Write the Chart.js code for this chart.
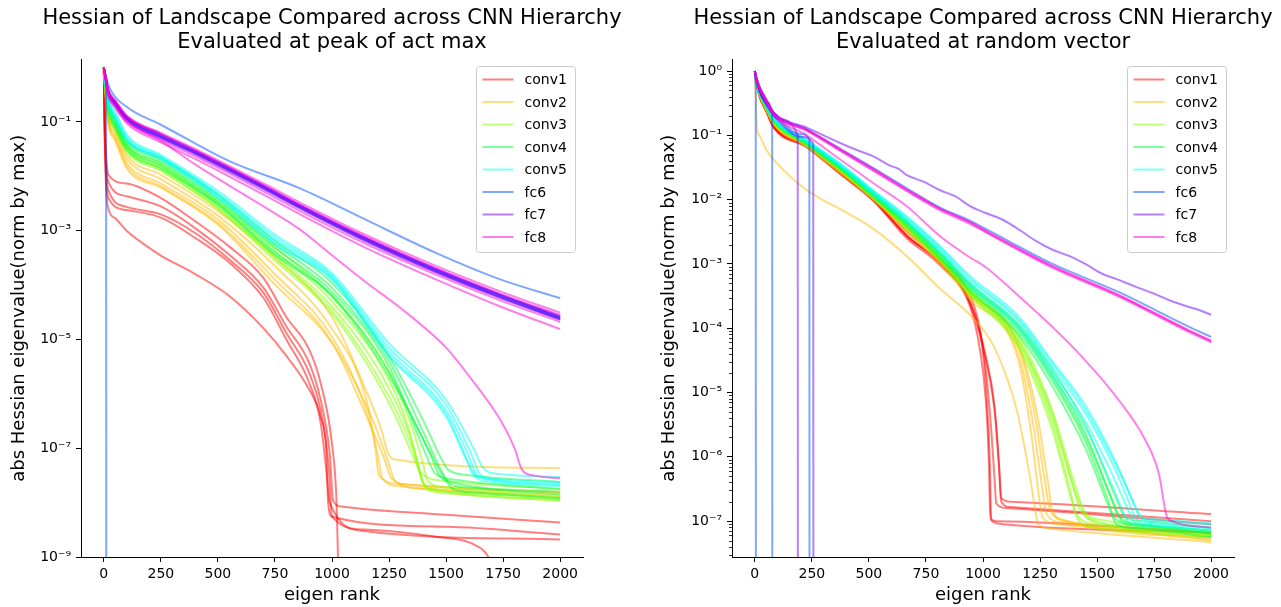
<!DOCTYPE html>
<html>
<head>
<meta charset="utf-8">
<script src="https://cdn.jsdelivr.net/npm/chart.js@4.4.0/dist/chart.umd.min.js"></script>
<style>
  html, body { margin: 0; padding: 0; background: #fff; }
  #wrap { position: relative; width: 1281px; height: 607px; }
  .panel { position: absolute; top: 0; }
  #peakBox { left: 0; }
  #randBox { left: 640px; }
</style>
</head>
<body>
<div id="wrap">
  <div class="panel" id="peakBox"><canvas id="peakChart" width="640" height="607"></canvas></div>
  <div class="panel" id="randBox"><canvas id="randChart" width="641" height="607"></canvas></div>
</div>
<script>
// Layers and their colours (hsv colormap, alpha 0.5)
const layerNames = ['conv1', 'conv2', 'conv3', 'conv4', 'conv5', 'fc6', 'fc7', 'fc8'];
const layerColors = [
    'rgba(255, 0, 0, 0.5)',
    'rgba(255, 188, 0, 0.5)',
    'rgba(133, 255, 0, 0.5)',
    'rgba(0, 255, 55, 0.5)',
    'rgba(0, 255, 243, 0.5)',
    'rgba(0, 79, 255, 0.5)',
    'rgba(110, 0, 255, 0.5)',
    'rgba(255, 0, 212, 0.5)'
];

// Tick values
const xTicks = [0, 250, 500, 750, 1000, 1250, 1500, 1750, 2000];
const peakYTicks = [1e-1, 1e-3, 1e-5, 1e-7, 1e-9];
const randYTicks = [1, 1e-1, 1e-2, 1e-3, 1e-4, 1e-5, 1e-6, 1e-7];
const minorSubs = [2, 3, 4, 5, 6, 7, 8, 9];

// ---- Evaluated at peak of act max: every curve is a list of [eigen rank, eigenvalue] ----
const peakConv1 = [
    [[0,1],[3,0.2],[10,0.025],[20,0.0107],[100,0.0074],[250,0.004],[400,0.0015],[550,5.1e-4],[700,1.35e-4],[800,2.6e-5],[900,6.5e-6],[950,1.6e-6],[1000,1.2e-7],[1020,1e-8],[1032,1e-10]],
    [[0,1],[3,0.15],[10,0.018],[20,0.0079],[100,0.0043],[250,0.0028],[400,0.00112],[550,3.6e-4],[700,8.9e-5],[800,1.74e-5],[900,3.7e-6],[950,7.8e-7],[990,8e-8],[1005,1.1e-8],[1040,8.5e-9],[1500,6e-9],[2000,4.3e-9]],
    [[0,1],[3,0.12],[10,0.012],[20,0.0056],[100,0.00275],[250,0.002],[400,9.1e-4],[550,2.95e-4],[700,7.2e-5],[800,1.32e-5],[900,2.45e-6],[950,5.1e-7],[985,5e-8],[1000,5.6e-9],[1140,3.2e-9],[1440,2.4e-9],[1640,1.55e-9],[1685,1e-9],[1710,5e-10]],
    [[0,1],[3,0.1],[10,0.009],[20,0.004],[100,0.0024],[250,0.00174],[400,7.4e-4],[550,2.6e-4],[700,5.8e-5],[800,1e-5],[900,1.6e-6],[950,3e-7],[975,4e-8],[990,1e-8],[1140,3e-9],[2000,2.1e-9]],
    [[0,1],[3,0.08],[10,0.006],[20,0.0025],[50,0.0017],[100,0.001],[180,5.5e-4],[250,3.5e-4],[400,1.6e-4],[550,6.3e-5],[700,1.6e-5],[800,5e-6],[900,1.2e-6],[950,3.8e-7],[975,9e-8],[983,1e-8],[1000,5.5e-9],[1500,3.6e-9],[2000,2.6e-9]]
];
const peakConv2 = [
    [[0,1],[5,0.55],[20,0.135],[50,0.072],[100,0.025],[250,0.0107],[500,0.0023],[750,3.2e-4],[1000,2.6e-5],[1142,1.35e-6],[1216,2.2e-7],[1245,8.1e-8],[1270,6.3e-8],[2000,4.3e-8]],
    [[0,1],[5,0.5],[20,0.12],[50,0.063],[100,0.0214],[250,0.0089],[500,0.0019],[750,2.24e-4],[1000,1.58e-5],[1150,7.9e-7],[1190,1e-7],[1205,3.2e-8],[1300,2.2e-8],[2000,1.5e-8]],
    [[0,1],[5,0.47],[20,0.107],[50,0.054],[100,0.0178],[250,0.0074],[500,0.0016],[750,1.58e-4],[1000,1.12e-5],[1150,5e-7],[1200,7.9e-8],[1220,2.8e-8],[1300,2e-8],[2000,1.35e-8]],
    [[0,1],[5,0.45],[20,0.1],[50,0.05],[100,0.0158],[250,0.0066],[500,0.00138],[750,1.26e-4],[1000,8.9e-6],[1160,3.2e-7],[1230,6.3e-8],[1260,2.8e-8],[1350,2.1e-8],[2000,1.58e-8]],
    [[0,1],[5,0.42],[20,0.089],[50,0.045],[100,0.0141],[250,0.0062],[500,0.0013],[750,1.02e-4],[1000,8.7e-6],[1180,3.2e-7],[1250,5e-8],[1275,2.5e-8],[1400,1.78e-8],[2000,1.26e-8]]
];
const peakConv3 = [
    [[0,1],[5,0.6],[20,0.2],[50,0.112],[100,0.04],[250,0.0178],[500,0.00355],[750,5e-4],[1000,6.2e-5],[1250,2.5e-6],[1350,2.5e-7],[1400,5e-8],[1420,2.5e-8],[1500,1.9e-8],[2000,1.26e-8]],
    [[0,1],[5,0.58],[20,0.182],[50,0.1],[100,0.036],[250,0.0158],[500,0.00316],[750,4.2e-4],[1000,5e-5],[1250,1.78e-6],[1340,2e-7],[1375,5e-8],[1390,3.5e-8],[1500,2.5e-8],[2000,1.78e-8]],
    [[0,1],[5,0.55],[20,0.166],[50,0.089],[100,0.033],[250,0.0145],[500,0.0028],[750,3.55e-4],[1000,4e-5],[1250,1.26e-6],[1360,1e-7],[1395,2.5e-8],[1450,1.78e-8],[2000,1.12e-8]],
    [[0,1],[5,0.52],[20,0.151],[50,0.079],[100,0.03],[250,0.0132],[500,0.0026],[750,3.2e-4],[1000,3.4e-5],[1250,8.9e-7],[1370,6.3e-8],[1405,2e-8],[1500,1.58e-8],[2000,1.17e-8]],
    [[0,1],[5,0.5],[20,0.141],[50,0.071],[100,0.028],[250,0.0126],[500,0.0025],[750,2.8e-4],[1000,3e-5],[1250,6.8e-7],[1380,4e-8],[1415,1.78e-8],[1500,1.48e-8],[2000,1.07e-8]]
];
const peakConv4 = [
    [[0,1],[5,0.62],[20,0.25],[50,0.117],[100,0.047],[250,0.0219],[500,0.0046],[750,6.5e-4],[1000,1.1e-4],[1250,4.9e-6],[1400,3.2e-7],[1480,6.3e-8],[1510,4e-8],[1600,3.2e-8],[2000,2.4e-8]],
    [[0,1],[5,0.6],[20,0.224],[50,0.107],[100,0.043],[250,0.0195],[500,0.004],[750,5.6e-4],[1000,8.9e-5],[1250,4e-6],[1400,2e-7],[1490,3.2e-8],[1520,2.2e-8],[1600,1.9e-8],[2000,1.41e-8]],
    [[0,1],[5,0.57],[20,0.2],[50,0.095],[100,0.038],[250,0.0174],[500,0.00355],[750,4.8e-4],[1000,7.6e-5],[1250,3.2e-6],[1380,1.58e-7],[1430,5e-8],[1450,3.5e-8],[1550,2.6e-8],[2000,1.78e-8]],
    [[0,1],[5,0.55],[20,0.178],[50,0.087],[100,0.035],[250,0.0158],[500,0.00316],[750,4e-4],[1000,6.6e-5],[1250,2.5e-6],[1420,1e-7],[1500,2.5e-8],[1530,1.78e-8],[1650,1.51e-8],[2000,1.2e-8]],
    [[0,1],[5,0.53],[20,0.158],[50,0.079],[100,0.031],[250,0.0141],[500,0.003],[750,3.6e-4],[1000,6.2e-5],[1250,2.1e-6],[1430,7.9e-8],[1470,3.2e-8],[1520,2.4e-8],[2000,1.58e-8]]
];
const peakConv5 = [
    [[0,1],[5,0.66],[20,0.275],[50,0.158],[100,0.059],[250,0.025],[500,0.0054],[750,8.5e-4],[1000,1.66e-4],[1250,8.5e-6],[1500,7.8e-7],[1620,1e-7],[1660,4.5e-8],[1700,3.5e-8],[2000,3e-8]],
    [[0,1],[5,0.64],[20,0.25],[50,0.141],[100,0.054],[250,0.0234],[500,0.0049],[750,7.6e-4],[1000,1.51e-4],[1250,7.1e-6],[1500,6.3e-7],[1610,7.9e-8],[1645,3.5e-8],[1700,2.8e-8],[2000,2.4e-8]],
    [[0,1],[5,0.62],[20,0.229],[50,0.126],[100,0.05],[250,0.0224],[500,0.0046],[750,6.8e-4],[1000,1.41e-4],[1250,6e-6],[1500,5e-7],[1600,7.1e-8],[1630,3.5e-8],[1700,2.6e-8],[2000,2.1e-8]],
    [[0,1],[5,0.6],[20,0.214],[50,0.115],[100,0.047],[250,0.0214],[500,0.0043],[750,6e-4],[1000,1.32e-4],[1250,5.2e-6],[1500,4.3e-7],[1590,6.3e-8],[1620,3.2e-8],[1700,2.4e-8],[2000,2e-8]],
    [[0,1],[5,0.58],[20,0.2],[50,0.105],[100,0.045],[250,0.0204],[500,0.004],[750,5.5e-4],[1000,1.26e-4],[1250,4.9e-6],[1500,3.8e-7],[1600,5e-8],[1640,3e-8],[2000,2.24e-8]]
];
const peakFc6 = [
    [[0,1],[5,0.8],[26,0.42],[100,0.19],[250,0.089],[550,0.019],[860,0.006],[1150,0.00158],[1450,4e-4],[1740,1.26e-4],[2000,5.75e-5]],
    [[0,1],[5,0.8],[10,0.6],[11,1e-12]],
    [[0,1],[5,0.77],[20,0.36],[50,0.23],[100,0.12],[250,0.056],[400,0.0285],[700,0.0065],[860,0.00285],[1150,7e-4],[1450,1.95e-4],[1740,6.4e-5],[2000,2.55e-5]],
    [[0,1],[5,0.76],[20,0.355],[50,0.225],[100,0.118],[250,0.055],[400,0.028],[700,0.0064],[860,0.0028],[1150,6.9e-4],[1450,1.92e-4],[1740,6.3e-5],[2000,2.5e-5]]
];
const peakFc7 = [
    [[0,1],[5,0.78],[20,0.37],[50,0.235],[100,0.124],[250,0.058],[400,0.029],[700,0.0066],[860,0.0029],[1150,7.2e-4],[1450,2e-4],[1740,6.5e-5],[2000,2.6e-5]],
    [[0,1],[5,0.75],[20,0.35],[50,0.22],[100,0.115],[250,0.053],[400,0.027],[700,0.0062],[860,0.0027],[1150,6.7e-4],[1450,1.85e-4],[1740,6e-5],[2000,2.4e-5]],
    [[0,1],[5,0.72],[20,0.33],[50,0.21],[100,0.108],[250,0.05],[400,0.0255],[700,0.0058],[860,0.00255],[1150,6.3e-4],[1450,1.75e-4],[1740,5.7e-5],[2000,2.3e-5]],
    [[0,1],[5,0.8],[20,0.38],[50,0.24],[100,0.128],[250,0.06],[400,0.03],[700,0.0068],[860,0.003],[1150,7.4e-4],[1450,2.05e-4],[1740,6.7e-5],[2000,2.7e-5]],
    [[0,1],[5,0.74],[20,0.34],[50,0.215],[100,0.112],[250,0.052],[400,0.0265],[700,0.006],[860,0.00265],[1150,6.5e-4],[1450,1.8e-4],[1740,5.9e-5],[2000,2.35e-5]]
];
const peakFc8 = [
    [[0,1],[5,0.8],[20,0.39],[50,0.25],[100,0.132],[250,0.063],[400,0.032],[700,0.0074],[860,0.0033],[1150,8.3e-4],[1450,2.3e-4],[1740,7.6e-5],[2000,3.1e-5]],
    [[0,1],[5,0.72],[20,0.32],[50,0.2],[100,0.103],[250,0.047],[400,0.0235],[700,0.0053],[860,0.0023],[1150,5.7e-4],[1450,1.6e-4],[1740,5.2e-5],[2000,2.1e-5]],
    [[0,1],[5,0.7],[20,0.3],[50,0.185],[100,0.095],[250,0.042],[400,0.021],[700,0.0046],[860,0.002],[1150,4.8e-4],[1450,1.3e-4],[1740,4e-5],[2000,1.55e-5]],
    [[0,1],[5,0.79],[20,0.37],[50,0.238],[100,0.126],[250,0.06],[400,0.03],[700,0.0069],[860,0.003],[1150,7.6e-4],[1450,2.1e-4],[1740,6.9e-5],[2000,2.8e-5]],
    [[0,1],[5,0.71],[20,0.316],[50,0.19],[100,0.105],[250,0.045],[400,0.0166],[700,0.0028],[860,0.00105],[1000,3.55e-4],[1150,1.12e-4],[1300,3.8e-5],[1500,7.1e-6],[1580,2.75e-6],[1745,2.95e-7],[1800,1e-7],[1833,4e-8],[1877,3.2e-8],[2000,2.8e-8]]
];

// ---- Evaluated at random vector ----
const randConv1 = [
    [[0,1],[5,0.74],[20,0.43],[50,0.25],[82,0.145],[228,0.069],[374,0.0275],[520,0.0105],[666,0.0032],[812,0.0012],[943,3.2e-4],[990,7.9e-5],[1015,1e-5],[1030,7.9e-7],[1036,1.07e-7],[1060,1e-7],[2000,6.6e-8]],
    [[0,1],[5,0.74],[20,0.42],[50,0.245],[82,0.138],[228,0.068],[374,0.026],[520,0.01],[666,0.0028],[812,0.00107],[943,2.6e-4],[1000,5e-5],[1030,5e-6],[1050,5e-7],[1058,1.9e-7],[1100,1.6e-7],[2000,8.9e-8]],
    [[0,1],[5,0.72],[20,0.41],[50,0.24],[82,0.135],[228,0.066],[374,0.0255],[520,0.01],[666,0.0027],[812,0.00105],[943,2.5e-4],[1010,4e-5],[1050,6.3e-6],[1070,7.9e-7],[1080,2.3e-7],[1120,2e-7],[2000,1.29e-7]],
    [[0,1],[5,0.74],[20,0.42],[50,0.245],[82,0.138],[228,0.068],[374,0.026],[520,0.0098],[666,0.00275],[812,0.00102],[943,2.4e-4],[1010,3.5e-5],[1050,5.6e-6],[1070,7.1e-7],[1080,2e-7],[1120,1.66e-7],[2000,1e-7]],
    [[0,1],[5,0.72],[20,0.4],[50,0.235],[82,0.132],[228,0.065],[374,0.025],[520,0.0095],[666,0.0025],[812,9.5e-4],[943,2.2e-4],[985,5e-5],[1012,7.8e-6],[1025,1e-6],[1032,1.26e-7],[1040,1e-7],[1100,8.9e-8],[2000,6.6e-8]]
];
const randConv2 = [
    [[0,1],[5,0.74],[20,0.44],[50,0.26],[82,0.158],[228,0.069],[374,0.0275],[520,0.0107],[666,0.0035],[812,0.00117],[943,3.5e-4],[1155,5.2e-5],[1228,4.3e-6],[1272,4e-7],[1294,1.51e-7],[1350,1.05e-7],[2000,5.2e-8]],
    [[0,1],[5,0.74],[20,0.43],[50,0.25],[82,0.151],[228,0.068],[374,0.027],[520,0.0102],[666,0.0033],[812,0.00107],[943,3.2e-4],[1155,4e-5],[1220,3.2e-6],[1260,3.2e-7],[1280,1.26e-7],[1350,9.5e-8],[2000,5e-8]],
    [[0,1],[5,0.72],[20,0.42],[50,0.245],[82,0.148],[228,0.066],[374,0.026],[520,0.01],[666,0.0032],[812,0.001],[943,2.8e-4],[1155,3.2e-5],[1210,2.5e-6],[1245,2.5e-7],[1262,1.12e-7],[1330,8.9e-8],[2000,5.6e-8]],
    [[0,1],[5,0.76],[20,0.45],[50,0.27],[82,0.162],[228,0.071],[374,0.028],[520,0.011],[666,0.0036],[812,0.0012],[943,3.6e-4],[1155,5.6e-5],[1235,5e-6],[1285,4e-7],[1305,1.4e-7],[1370,1e-7],[2000,6e-8]],
    [[0,1],[5,0.35],[9,0.135],[20,0.1],[50,0.06],[82,0.042],[228,0.014],[374,0.0071],[520,0.0035],[666,0.00132],[812,4.1e-4],[943,1.6e-4],[1050,5e-5],[1150,5e-6],[1210,4e-7],[1235,1.12e-7],[1243,8.9e-8],[1300,7.6e-8],[2000,4.7e-8]]
];
const randConv3 = [
    [[0,1],[5,0.76],[20,0.46],[50,0.275],[82,0.166],[228,0.074],[374,0.03],[520,0.0112],[666,0.004],[812,0.00126],[943,3.8e-4],[1155,6.6e-5],[1301,4.3e-6],[1389,4e-7],[1425,1.51e-7],[1500,1e-7],[2000,6.3e-8]],
    [[0,1],[5,0.76],[20,0.45],[50,0.27],[82,0.162],[228,0.071],[374,0.029],[520,0.0107],[666,0.0037],[812,0.00115],[943,3.4e-4],[1155,5.6e-5],[1301,3.5e-6],[1380,3.2e-7],[1410,1.26e-7],[1500,8.9e-8],[2000,6e-8]],
    [[0,1],[5,0.77],[20,0.47],[50,0.28],[82,0.17],[228,0.076],[374,0.031],[520,0.0115],[666,0.0041],[812,0.00132],[943,4e-4],[1155,7.6e-5],[1301,5.6e-6],[1400,4e-7],[1445,1.4e-7],[1520,1.05e-7],[2000,7.1e-8]],
    [[0,1],[5,0.74],[20,0.44],[50,0.26],[82,0.158],[228,0.069],[374,0.028],[520,0.0102],[666,0.0035],[812,0.0011],[943,3.2e-4],[1155,5e-5],[1301,2.8e-6],[1390,2e-7],[1420,1e-7],[1500,7.9e-8],[2000,5.6e-8]],
    [[0,1],[5,0.76],[20,0.46],[50,0.275],[82,0.166],[228,0.072],[374,0.0295],[520,0.011],[666,0.0038],[812,0.0012],[943,3.5e-4],[1155,6.3e-5],[1301,5e-6],[1410,2.5e-7],[1460,1.12e-7],[1550,8.9e-8],[2000,6.6e-8]]
];
const randConv4 = [
    [[0,1],[5,0.78],[20,0.48],[50,0.29],[82,0.178],[228,0.078],[374,0.032],[520,0.0123],[666,0.0045],[812,0.00148],[943,4.7e-4],[1155,1.07e-4],[1300,2.05e-5],[1447,2.4e-6],[1564,2.2e-7],[1593,1.2e-7],[1700,8.9e-8],[2000,6.6e-8]],
    [[0,1],[5,0.76],[20,0.46],[50,0.275],[82,0.17],[228,0.074],[374,0.031],[520,0.0115],[666,0.0041],[812,0.00132],[943,4.2e-4],[1155,8.9e-5],[1300,1.6e-5],[1447,1.8e-6],[1550,2e-7],[1575,1.12e-7],[1700,8.3e-8],[2000,6.3e-8]],
    [[0,1],[5,0.77],[20,0.47],[50,0.28],[82,0.174],[228,0.076],[374,0.032],[520,0.012],[666,0.0043],[812,0.0014],[943,4.5e-4],[1155,1e-4],[1300,1.8e-5],[1447,2.1e-6],[1575,1.8e-7],[1610,1e-7],[1700,8.7e-8],[2000,7.1e-8]],
    [[0,1],[5,0.76],[20,0.45],[50,0.27],[82,0.166],[228,0.072],[374,0.0295],[520,0.011],[666,0.0038],[812,0.0012],[943,3.8e-4],[1155,7.9e-5],[1300,1.32e-5],[1447,1.4e-6],[1560,1.4e-7],[1585,8.9e-8],[1700,7.6e-8],[2000,5.6e-8]],
    [[0,1],[5,0.78],[20,0.48],[50,0.295],[82,0.182],[228,0.079],[374,0.033],[520,0.0126],[666,0.0046],[812,0.0015],[943,5e-4],[1155,1.17e-4],[1300,2.4e-5],[1447,3.2e-6],[1590,2e-7],[1625,1.12e-7],[1700,1e-7],[2000,7.9e-8]]
];
const randConv5 = [
    [[0,1],[5,0.79],[20,0.5],[50,0.32],[82,0.195],[228,0.085],[374,0.037],[520,0.014],[666,0.0055],[812,0.0019],[943,6.5e-4],[1155,1.55e-4],[1300,3.2e-5],[1450,6.2e-6],[1590,7.2e-7],[1665,1.7e-7],[1685,1.2e-7],[1750,1.07e-7],[2000,9.3e-8]],
    [[0,1],[5,0.78],[20,0.49],[50,0.3],[82,0.186],[228,0.081],[374,0.035],[520,0.0132],[666,0.005],[812,0.0017],[943,5.6e-4],[1155,1.32e-4],[1300,2.6e-5],[1450,4.7e-6],[1580,6.3e-7],[1650,1.6e-7],[1672,1.07e-7],[1750,9.3e-8],[2000,7.9e-8]],
    [[0,1],[5,0.78],[20,0.48],[50,0.295],[82,0.182],[228,0.079],[374,0.034],[520,0.0126],[666,0.0047],[812,0.0016],[943,5e-4],[1155,1.12e-4],[1300,2.2e-5],[1450,3.5e-6],[1570,5e-7],[1640,1.4e-7],[1660,1e-7],[1750,8.7e-8],[2000,7.4e-8]],
    [[0,1],[5,0.79],[20,0.5],[50,0.31],[82,0.19],[228,0.083],[374,0.035],[520,0.0135],[666,0.0052],[812,0.0018],[943,6e-4],[1155,1.4e-4],[1300,2.95e-5],[1450,5.4e-6],[1600,5.6e-7],[1680,1.4e-7],[1700,1.07e-7],[1760,1e-7],[2000,8.9e-8]],
    [[0,1],[5,0.76],[20,0.47],[50,0.28],[82,0.174],[228,0.076],[374,0.032],[520,0.0117],[666,0.0044],[812,0.0014],[943,4.5e-4],[1155,1e-4],[1300,1.9e-5],[1450,2.8e-6],[1560,4e-7],[1620,1.26e-7],[1640,9.5e-8],[1750,8.3e-8],[2000,7.1e-8]]
];
const randFc6 = [
    [[0,1],[5,0.84],[20,0.57],[50,0.36],[82,0.225],[228,0.124],[374,0.062],[520,0.031],[666,0.015],[812,0.0075],[943,0.0047],[1012,0.0035],[1305,0.001],[1598,3.6e-4],[1892,1.1e-4],[2000,7.3e-5]],
    [[0,1],[2,0.7],[4,0.5],[5,1e-12]],
    [[0,1],[5,0.8],[20,0.52],[50,0.33],[76,0.22],[77,1e-12]],
    [[0,1],[5,0.8],[20,0.5],[50,0.32],[100,0.19],[200,0.105],[239,0.085],[240,1e-12]]
];
const randFc7 = [
    [[0,1],[5,0.84],[20,0.57],[50,0.36],[82,0.23],[228,0.132],[374,0.076],[447,0.059],[520,0.047],[590,0.034],[630,0.03],[666,0.024],[740,0.019],[812,0.014],[880,0.0112],[943,0.0079],[1012,0.0062],[1080,0.005],[1159,0.0034],[1230,0.0023],[1305,0.00166],[1380,0.00132],[1452,9.8e-4],[1520,7.1e-4],[1598,5.6e-4],[1670,4.4e-4],[1745,3.5e-4],[1820,2.7e-4],[1892,2.2e-4],[1950,1.9e-4],[2000,1.62e-4]],
    [[0,1],[5,0.8],[20,0.5],[50,0.31],[100,0.18],[188,0.1],[189,1e-12]],
    [[0,1],[5,0.79],[20,0.49],[50,0.3],[100,0.175],[200,0.095],[256,0.075],[257,1e-12]]
];
const randFc8 = [
    [[0,1],[5,0.83],[20,0.56],[50,0.35],[82,0.22],[228,0.12],[374,0.059],[520,0.029],[666,0.014],[812,0.0071],[943,0.0044],[1012,0.0032],[1305,9.1e-4],[1598,3.2e-4],[1892,9.5e-5],[2000,6.3e-5]],
    [[0,1],[5,0.82],[20,0.55],[50,0.34],[82,0.215],[228,0.117],[374,0.057],[520,0.028],[666,0.0135],[812,0.0068],[943,0.0042],[1012,0.0031],[1305,8.7e-4],[1598,3.05e-4],[1892,9.1e-5],[2000,6e-5]],
    [[0,1],[5,0.84],[20,0.57],[50,0.36],[82,0.225],[228,0.123],[374,0.061],[520,0.03],[666,0.0145],[812,0.0073],[943,0.0045],[1012,0.0033],[1305,9.3e-4],[1598,3.25e-4],[1892,9.7e-5],[2000,6.4e-5]],
    [[0,1],[5,0.81],[20,0.54],[50,0.34],[82,0.21],[228,0.1],[374,0.042],[520,0.018],[666,0.0079],[812,0.0027],[943,0.00126],[1012,8.9e-4],[1155,3.2e-4],[1301,1.07e-4],[1447,3.2e-5],[1593,7.8e-6],[1710,1.86e-6],[1770,5.6e-7],[1805,1.2e-7],[1828,1e-7],[2000,7.9e-8]]
];

const peakLayers = [peakConv1, peakConv2, peakConv3, peakConv4, peakConv5, peakFc6, peakFc7, peakFc8];
const randLayers = [randConv1, randConv2, randConv3, randConv4, randConv5, randFc6, randFc7, randFc8];

Chart.defaults.font.family = "'DejaVu Sans', sans-serif";
Chart.defaults.color = '#000';

const supChars = { '-': '\u207B', '0': '\u2070', '1': '\u00B9', '2': '\u00B2', '3': '\u00B3', '4': '\u2074', '5': '\u2075', '6': '\u2076', '7': '\u2077', '8': '\u2078', '9': '\u2079' };
function powLabel(v) {
    const e = Math.round(Math.log10(v));
    return '10' + String(e).split('').map(c => supChars[c]).join('');
}

// one dataset per curve, later layers drawn on top (as in matplotlib)
function buildDatasets(layers) {
    const sets = [];
    layers.forEach((curves, li) => {
        curves.forEach(curve => {
            sets.push({
                label: layerNames[li],
                data: curve.map(p => ({ x: p[0], y: p[1] })),
                borderColor: layerColors[li],
                borderWidth: 2,
                pointRadius: 0,
                fill: false,
                cubicInterpolationMode: 'monotone'
            });
        });
    });
    sets.forEach((s, i) => { s.order = sets.length - i; });
    return sets;
}

// two-line title centred over the plot area (not squeezed to its width)
const panelTitle = {
    id: 'panelTitle',
    afterDraw(chart, args, opts) {
        const { ctx, chartArea } = chart;
        const cx = (chartArea.left + chartArea.right) / 2;
        ctx.save();
        ctx.font = "21px 'DejaVu Sans'";
        ctx.fillStyle = '#000';
        ctx.textAlign = 'center';
        ctx.textBaseline = 'middle';
        opts.lines.forEach((t, i) => ctx.fillText(t, cx, chartArea.top - 40.5 + i * 24));
        ctx.restore();
    }
};

// framed legend in the upper right corner of the plot area
const layerLegend = {
    id: 'layerLegend',
    afterDatasetsDraw(chart) {
        const { ctx, chartArea } = chart;
        const w = 99, h = 186;
        const left = Math.round(chartArea.right - 8 - w) + 0.5;
        const top = Math.round(chartArea.top + 6.5) + 0.5;
        ctx.save();
        ctx.beginPath();
        ctx.roundRect(left, top, w, h, 3);
        ctx.fillStyle = 'rgba(255, 255, 255, 0.8)';
        ctx.fill();
        ctx.strokeStyle = 'rgb(204, 204, 204)';
        ctx.lineWidth = 1;
        ctx.stroke();
        ctx.font = "14px 'DejaVu Sans'";
        ctx.textBaseline = 'middle';
        layerNames.forEach((name, i) => {
            const y = top + 13 + i * 22.5;
            ctx.beginPath();
            ctx.moveTo(left + 6, y);
            ctx.lineTo(left + 37, y);
            ctx.strokeStyle = layerColors[i];
            ctx.lineWidth = 2;
            ctx.stroke();
            ctx.fillStyle = '#000';
            ctx.fillText(name, left + 48, y + 1);
        });
        ctx.restore();
    }
};

// short unlabelled minor ticks on the log axis
const minorTicks = {
    id: 'minorTicks',
    afterDraw(chart, args, opts) {
        if (!opts.subs || !opts.subs.length) return;
        const { ctx, chartArea } = chart;
        const y = chart.scales.y;
        ctx.save();
        ctx.strokeStyle = '#000';
        ctx.lineWidth = 0.8;
        for (let e = -9; e <= 0; e++) {
            opts.subs.forEach(m => {
                const v = m * Math.pow(10, e);
                if (v < y.min || v > y.max) return;
                const py = Math.round(y.getPixelForValue(v)) + 0.5;
                ctx.beginPath();
                ctx.moveTo(chartArea.left - 3, py);
                ctx.lineTo(chartArea.left, py);
                ctx.stroke();
            });
        }
        ctx.restore();
    }
};

function makeChart(canvasId, cfg) {
    const ctx = document.getElementById(canvasId).getContext('2d');
    return new Chart(ctx, {
        type: 'line',
        data: { datasets: buildDatasets(cfg.layers) },
        plugins: [layerLegend, minorTicks, panelTitle],
        options: {
            responsive: false,
            animation: false,
            layout: { padding: { left: 0, right: cfg.padRight, top: 59.5, bottom: 0 } },
            plugins: {
                legend: { display: false },
                tooltip: { enabled: false },
                title: { display: false },
                panelTitle: { lines: cfg.title },
                minorTicks: { subs: cfg.minor }
            },
            scales: {
                x: {
                    type: 'linear',
                    min: -100,
                    max: 2100,
                    afterBuildTicks: axis => { axis.ticks = xTicks.map(v => ({ value: v })); },
                    afterFit: axis => { axis.height = 50; },
                    ticks: { color: '#000', font: { size: 14 }, padding: 4, maxRotation: 0, autoSkip: false, callback: v => String(v) },
                    grid: { display: true, drawOnChartArea: false, drawTicks: true, tickLength: 5, tickColor: '#000', tickWidth: 1 },
                    border: { display: true, color: '#000', width: 1 },
                    title: { display: true, text: 'eigen rank', color: '#000', font: { size: 18 }, padding: { top: 0, bottom: 1 } }
                },
                y: {
                    type: 'logarithmic',
                    min: cfg.yMin,
                    max: cfg.yMax,
                    afterBuildTicks: axis => { axis.ticks = cfg.yTicks.map(v => ({ value: v })); },
                    afterFit: axis => { axis.width = cfg.yWidth; },
                    ticks: { color: '#000', font: { size: 14 }, padding: 5, autoSkip: false, callback: v => powLabel(v) },
                    grid: { display: true, drawOnChartArea: false, drawTicks: true, tickLength: 5, tickColor: '#000', tickWidth: 1 },
                    border: { display: true, color: '#000', width: 1 },
                    title: { display: true, text: 'abs Hessian eigenvalue(norm by max)', color: '#000', font: { size: 18 }, padding: { top: cfg.yTitlePad, bottom: 0 } }
                }
            }
        }
    });
}

makeChart('peakChart', {
    layers: peakLayers,
    title: ['Hessian of Landscape Compared across CNN Hierarchy', 'Evaluated at peak of act max'],
    yMin: 1e-9, yMax: 1.41, yTicks: peakYTicks, minor: [],
    yWidth: 81, yTitlePad: 8.7, padRight: 57
});
makeChart('randChart', {
    layers: randLayers,
    title: ['Hessian of Landscape Compared across CNN Hierarchy', 'Evaluated at random vector'],
    yMin: 2.77e-8, yMax: 1.51, yTicks: randYTicks, minor: minorSubs,
    yWidth: 92, yTitlePad: 18.2, padRight: 47
});
</script>
</body>
</html>
